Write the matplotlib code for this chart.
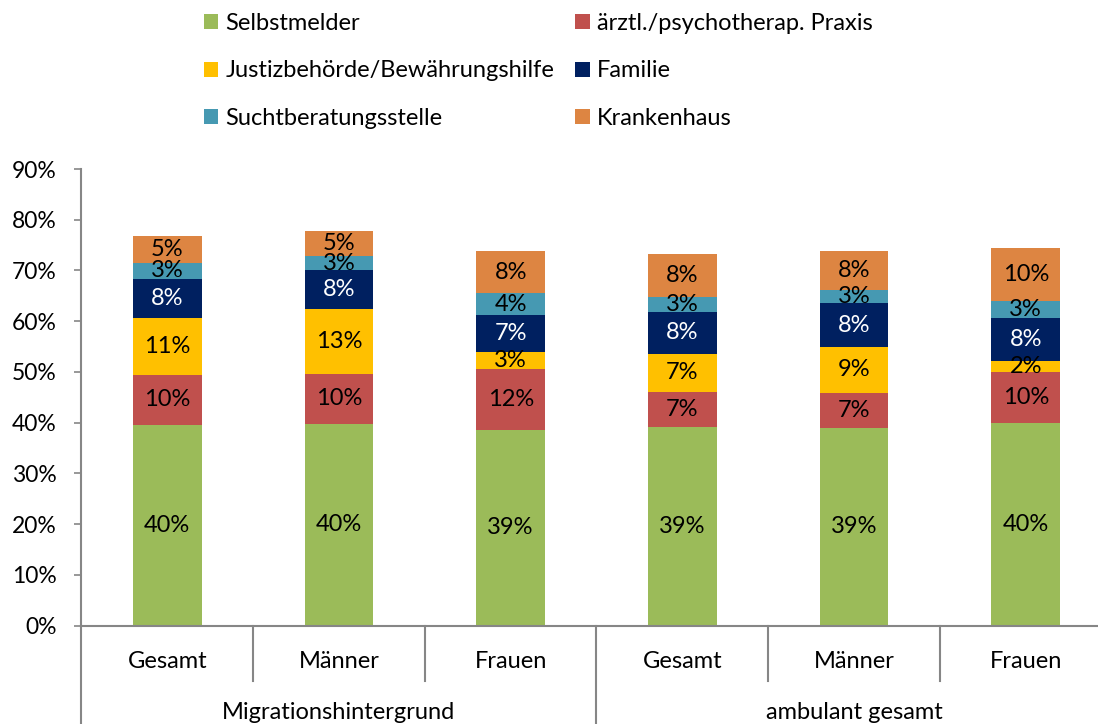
import matplotlib
matplotlib.use("Agg")
from matplotlib import pyplot as plt
from matplotlib.transforms import blended_transform_factory
import numpy as np

plt.rcParams['font.family'] = ['Lato', 'DejaVu Sans']

# data (share in %)
groups = ["Migrationshintergrund", "ambulant gesamt"]
subcats = ["Gesamt", "Männer", "Frauen", "Gesamt", "Männer", "Frauen"]
series = ["Selbstmelder", "ärztl./psychotherap. Praxis", "Justizbehörde/Bewährungshilfe",
          "Familie", "Suchtberatungsstelle", "Krankenhaus"]
selbst = [39.6, 39.8, 38.6, 39.2, 39.0, 39.9]
praxis = [9.9, 9.9, 12.0, 6.9, 6.9, 10.0]
justiz = [11.2, 12.7, 3.4, 7.4, 9.1, 2.3]
familie = [7.6, 7.6, 7.2, 8.4, 8.5, 8.4]
sucht = [3.2, 2.9, 4.3, 2.9, 2.7, 3.4]
kranken = [5.3, 4.8, 8.4, 8.4, 7.6, 10.4]
colors = ["#9BBB59", "#C0504D", "#FFC000", "#002060", "#4699B2", "#DD8542"]
label_colors = ["black", "black", "black", "white", "black", "black"]

values = [selbst, praxis, justiz, familie, sucht, kranken]

W, H = 1098, 724
FS = 17
fig = plt.figure(figsize=(W / 100, H / 100), dpi=100)
ax = fig.add_axes([81.4 / W, 98.3 / H, 6 * 171.7 / W, 456.7 / H])

x = np.arange(len(subcats))
bottom = np.zeros(len(subcats))
handles = []
for vals, col, lc, name in zip(values, colors, label_colors, series):
    vals = np.array(vals)
    b = ax.bar(x, vals, 0.4, bottom=bottom, color=col, label=name, linewidth=0)
    handles.append(b)
    for xi, v, bt in zip(x, vals, bottom):
        ax.text(xi, bt + v / 2, f"{round(v)}%", ha="center", va="center",
                fontsize=FS, color=lc)
    bottom += vals

ax.set_xlim(-0.5, len(subcats) - 0.5)
ax.set_ylim(0, 90)
ax.set_yticks(np.arange(0, 91, 10))
ax.set_yticklabels([f"{t}%" for t in range(0, 91, 10)])
ax.tick_params(axis="y", length=5, width=1.2, color="#868686", pad=13, labelsize=FS - 0.5)
ax.set_xticks([])
for s in ["top", "right"]:
    ax.spines[s].set_visible(False)
for s in ["left", "bottom"]:
    ax.spines[s].set_color("#868686")
    ax.spines[s].set_linewidth(1.5)

# two-level category axis
tr = blended_transform_factory(ax.transData, ax.transAxes)
px = 1 / 456.7
for xi, name in zip(x, subcats):
    ax.text(xi, -36 * px, name, transform=tr, ha="center", va="center", fontsize=FS)
for b in [0.5, 1.5, 3.5, 4.5]:
    ax.plot([b, b], [0, -55 * px], transform=tr, color="#868686", lw=1.5, clip_on=False)
for b in [-0.5, 2.5, 5.5]:
    ax.plot([b, b], [0, -100 * px], transform=tr, color="#868686", lw=1.5, clip_on=False)
for gi, g in enumerate(groups):
    ax.text(gi * 3 + 1, -87 * px, g, transform=tr, ha="center", va="center", fontsize=FS)

order = [0, 2, 4, 1, 3, 5]
fig.legend([handles[i] for i in order], [series[i] for i in order],
           ncol=2, loc="upper left", bbox_to_anchor=(204 / W, 1 - 13 / H),
           frameon=False, fontsize=FS, handlelength=0.6, handleheight=0.6,
           handletextpad=0.3, columnspacing=0.9, labelspacing=1.12,
           borderaxespad=0, borderpad=0)

fig.savefig("out.png", dpi=100)
